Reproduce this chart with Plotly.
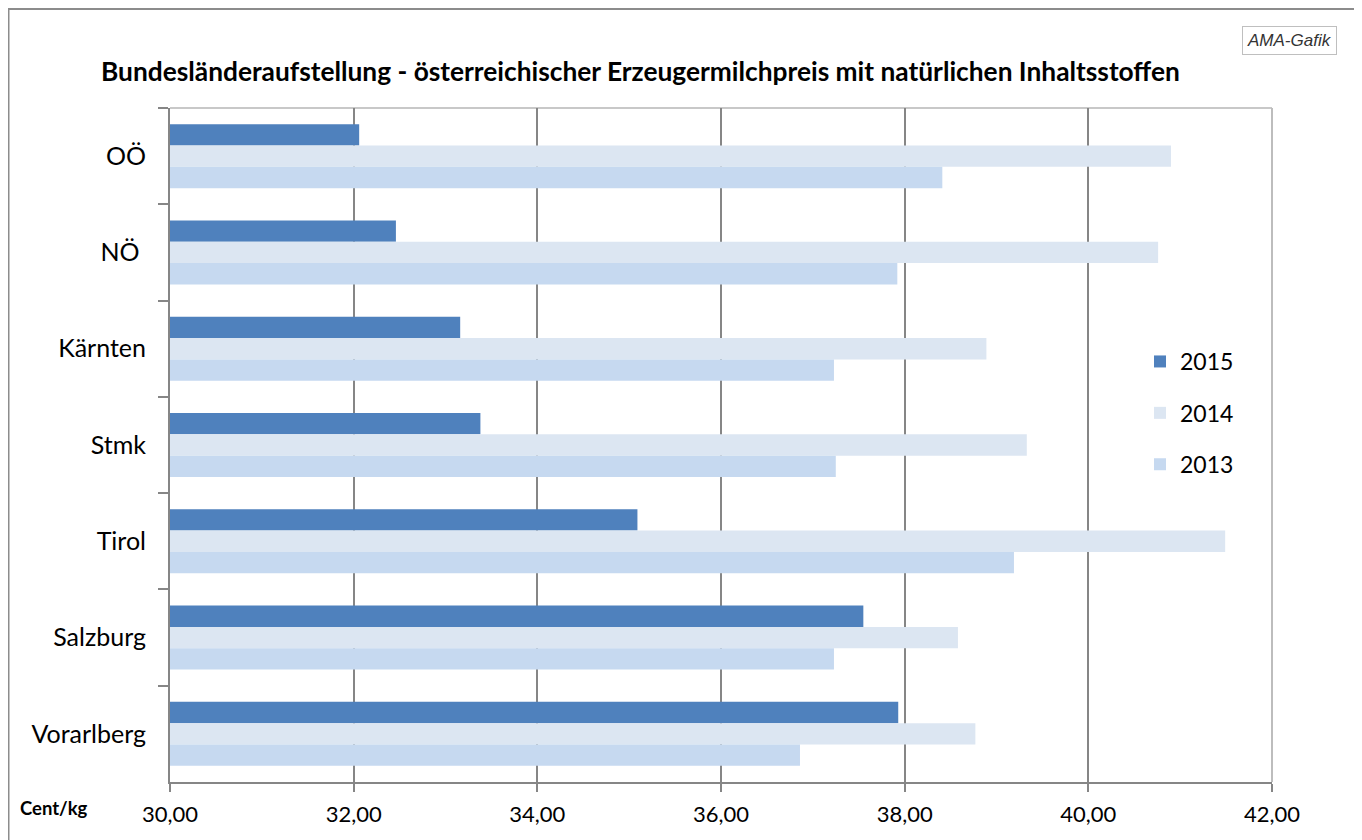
import plotly.graph_objects as go

categories = ["OÖ", "NÖ ", "Kärnten", "Stmk", "Tirol", "Salzburg", "Vorarlberg"]
v2015 = [32.06, 32.46, 33.16, 33.38, 35.09, 37.55, 37.93]
v2014 = [40.90, 40.76, 38.89, 39.33, 41.49, 38.58, 38.77]
v2013 = [38.41, 37.92, 37.23, 37.25, 39.19, 37.23, 36.86]
years = ["2015", "2014", "2013"]
colors = ["#4F81BD", "#DCE6F2", "#C6D9F0"]

# page offset of the plotly div (default body margin)
OX, OY = 8, 8
W, H = 1362 - OX, 840 - OY
L, R, T, B = 170, 1272, 108, 782  # plot area in page pixels
pw, ph = R - L, B - T

def px(x):
    return (x - L) / pw

def py(y):
    return (B - y) / ph

FONT = "Lato, Carlito, Calibri, sans-serif"

fig = go.Figure()
for name, vals, col in zip(years, [v2015, v2014, v2013], colors):
    fig.add_trace(go.Bar(
        y=categories, x=vals, name=name, orientation="h",
        marker=dict(color=col, line=dict(width=0)),
        legendgroup=name,
    ))

fig.update_layout(
    width=W, height=H,
    margin=dict(l=L - OX, r=W - (R - OX), t=T - OY, b=H - (B - OY)),
    paper_bgcolor="white", plot_bgcolor="white",
    barmode="group", bargap=0.335, bargroupgap=0,
    separators=",.",
    font=dict(family=FONT, color="black"),
    showlegend=True,
    legend=dict(x=px(1140), y=py(340), xanchor="left", yanchor="top",
                font=dict(size=23), traceorder="grouped", tracegroupgap=18.5,
                itemwidth=30, bgcolor="rgba(0,0,0,0)"),
    xaxis=dict(range=[30, 42], dtick=2, tick0=30, tickformat=".2f",
               showgrid=True, gridcolor="#868686", gridwidth=1.5,
               showline=True, linecolor="#868686", linewidth=2,
               ticks="outside", ticklen=8, tickwidth=2, tickcolor="#868686",
               tickfont=dict(size=22), ticklabelstandoff=4,
               zeroline=False, fixedrange=True),
    yaxis=dict(type="category", autorange="reversed",
               showline=True, linecolor="#868686", linewidth=2,
               ticks="outside", tickson="boundaries", ticklen=10, tickwidth=2,
               tickcolor="#868686", tickfont=dict(size=25), ticklabelstandoff=17,
               showgrid=False, zeroline=False, fixedrange=True),
)

# plot-area border (top/right light gray)
fig.add_shape(type="line", xref="paper", yref="paper", x0=0, x1=1, y0=1, y1=1,
              line=dict(color="#C8C8C8", width=2), layer="below")
fig.add_shape(type="line", xref="paper", yref="paper", x0=1, x1=1, y0=0, y1=1,
              line=dict(color="#BDBDBD", width=2), layer="below")

# outer chart border
fig.add_shape(type="line", xref="paper", yref="paper", x0=px(8), x1=px(1360), y0=py(9), y1=py(9),
              line=dict(color="#8C8C8C", width=2))
fig.add_shape(type="line", xref="paper", yref="paper", x0=px(8.5), x1=px(8.5), y0=py(9), y1=py(845),
              line=dict(color="#8C8C8C", width=2))
fig.add_shape(type="line", xref="paper", yref="paper", x0=px(1359), x1=px(1359), y0=py(9), y1=py(845),
              line=dict(color="#D9D9D9", width=1))

fig.add_annotation(
    text="<b>Bundesländeraufstellung - österreichischer Erzeugermilchpreis mit natürlichen Inhaltsstoffen</b>",
    xref="paper", yref="paper", x=px(640), y=py(71), xanchor="center", yanchor="middle",
    showarrow=False, font=dict(size=26.3, family=FONT))

fig.add_annotation(
    text="<i>AMA-Gafik</i>", xref="paper", yref="paper", x=px(1289), y=py(41),
    xanchor="center", yanchor="middle", showarrow=False,
    font=dict(size=17, family="Liberation Sans, Arial, sans-serif", color="#333333"),
    bordercolor="#BFBFBF", borderwidth=1, borderpad=4, bgcolor="white")

fig.add_annotation(
    text="<b>Cent/kg</b>", xref="paper", yref="paper", x=px(18), y=py(808),
    xanchor="left", yanchor="middle", showarrow=False,
    font=dict(size=18.5, family=FONT))

fig.write_html("out.html")
